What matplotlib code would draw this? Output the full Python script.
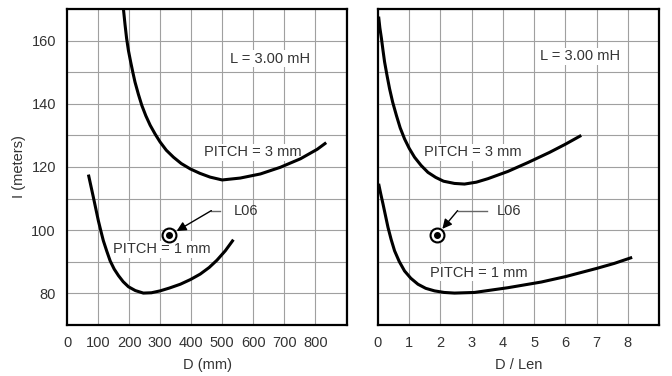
import matplotlib
matplotlib.use('Agg')
import matplotlib.pyplot as plt
import numpy as np

plt.rcParams['font.family'] = ['Liberation Sans', 'DejaVu Sans']

# ================= 数据 =================
# 左图：D (mm)
left_p3_x = [182, 187, 192, 198, 205, 212, 219, 230, 241, 254, 268, 284, 300, 320, 343, 368, 397, 428, 461, 500, 558, 623, 687, 752, 806, 835]
left_p3_y = [169.8, 165.0, 160.7, 156.8, 153.3, 150.0, 146.9, 143.0, 139.5, 136.2, 133.2, 130.4, 127.9, 125.3, 123.1, 121.1, 119.4, 118.0, 116.8, 115.9, 116.5, 117.8, 119.9, 122.6, 125.6, 127.7]
left_p1_x = [69, 77, 85, 93, 101, 109, 117, 128, 139, 152, 166, 181, 198, 220, 246, 272, 300, 330, 365, 398, 429, 458, 483, 510, 536]
left_p1_y = [117.6, 114.0, 110.4, 106.7, 103.0, 99.8, 96.7, 93.4, 90.3, 87.7, 85.6, 83.7, 82.1, 80.9, 80.1, 80.2, 80.8, 81.7, 82.9, 84.4, 86.1, 88.2, 90.5, 93.5, 97.0]
left_pt = (330, 98.4)
left_leader = [(494, 106.2), (465, 106.2)]
left_lbl = {'L06': (536, 106.2), 'L': (524, 154.3), 'P3': (440, 124.7), 'P1': (147, 94.0)}

# 右图：D / Len
right_p3_x = [0.02, 0.06, 0.11, 0.16, 0.21, 0.29, 0.37, 0.47, 0.59, 0.71, 0.85, 1.0, 1.17, 1.38, 1.6, 1.85, 2.1, 2.45, 2.77, 3.15, 3.52, 4.16, 4.8, 5.49, 6.0, 6.51]
right_p3_y = [167.6, 164.0, 160.7, 156.9, 153.3, 148.9, 144.8, 140.5, 136.3, 132.4, 128.9, 125.9, 123.1, 120.5, 118.3, 116.7, 115.5, 114.8, 114.6, 115.2, 116.3, 118.6, 121.4, 124.6, 127.2, 130.0]
right_p1_x = [0.02, 0.09, 0.16, 0.24, 0.32, 0.42, 0.53, 0.68, 0.85, 1.05, 1.28, 1.53, 1.81, 2.12, 2.45, 3.09, 4.16, 5.23, 6.0, 7.0, 7.57, 8.14]
right_p1_y = [114.7, 111.4, 108.3, 104.6, 100.9, 97.1, 93.5, 90.1, 87.1, 84.8, 82.9, 81.6, 80.8, 80.3, 80.1, 80.3, 81.8, 83.6, 85.3, 87.9, 89.5, 91.4]
right_pt = (1.89, 98.4)
right_leader = [(3.5, 106.2), (2.55, 106.2)]
right_lbl = {'L06': (3.79, 106.2), 'L': (5.2, 155), 'P3': (1.46, 124.7), 'P1': (1.68, 86.6)}

ylim = (70, 170)
y_ticks = [80, 100, 120, 140, 160]
left_xticks = [0, 100, 200, 300, 400, 500, 600, 700, 800]
right_xticks = [0, 1, 2, 3, 4, 5, 6, 7, 8]

TXT = '#333333'
GRID = '#a0a0a0'
FS = 10.5


def draw_panel(ax, p3x, p3y, p1x, p1y, pt, leader, lbl, xlim, xticks, xgrid, xlabel):
    ax.set_xlim(*xlim)
    ax.set_ylim(*ylim)
    for gx in xgrid:
        ax.axvline(gx, color=GRID, lw=0.8, zorder=0)
    for gy in np.arange(ylim[0], ylim[1] + 1, 10):
        ax.axhline(gy, color=GRID, lw=0.8, zorder=0)

    # 文字（白底）放在曲线下面
    box = dict(facecolor='white', edgecolor='none', pad=1.0)
    ax.text(*lbl['L06'], 'L06', fontsize=FS, color=TXT, va='center', ha='left', zorder=2)
    ax.text(*lbl['L'], 'L = 3.00 mH', fontsize=FS, color=TXT, va='center', ha='left', bbox=box, zorder=2)
    ax.text(*lbl['P3'], 'PITCH = 3 mm', fontsize=FS, color=TXT, va='center', ha='left', bbox=box, zorder=2)
    ax.text(*lbl['P1'], 'PITCH = 1 mm', fontsize=FS, color=TXT, va='center', ha='left', bbox=box, zorder=2)

    ax.plot(p3x, p3y, color='black', lw=2.2, solid_capstyle='butt', solid_joinstyle='round', zorder=3)
    ax.plot(p1x, p1y, color='black', lw=2.2, solid_capstyle='butt', solid_joinstyle='round', zorder=3)

    # 标记点 L06
    ax.plot(*pt, marker='o', ms=10, mfc='white', mec='black', mew=1.5, zorder=5)
    ax.plot(*pt, marker='o', ms=4, color='black', zorder=6)
    ax.plot([leader[0][0], leader[1][0]], [leader[0][1], leader[1][1]],
            color='#666666', lw=1.0, zorder=4)
    ax.annotate('', xy=pt, xytext=leader[1],
                arrowprops=dict(arrowstyle='-|>', color='black', lw=1.0,
                                mutation_scale=14, shrinkA=0, shrinkB=6),
                zorder=4)

    ax.set_xticks(xticks)
    ax.set_xticklabels([str(t) for t in xticks])
    ax.set_xlabel(xlabel, fontsize=FS, color=TXT, labelpad=6)
    ax.tick_params(length=0, labelsize=FS, labelcolor=TXT, pad=8)
    for sp in ax.spines.values():
        sp.set_linewidth(1.6)
        sp.set_color('black')
        sp.set_zorder(8)


fig = plt.figure(figsize=(6.72, 3.76), dpi=100)
ax1 = fig.add_axes([67 / 672, 51 / 376, 280 / 672, 316 / 376])
ax2 = fig.add_axes([378 / 672, 51 / 376, 281 / 672, 316 / 376])

draw_panel(ax1, left_p3_x, left_p3_y, left_p1_x, left_p1_y, left_pt, left_leader, left_lbl,
           (0, 902), left_xticks, range(100, 901, 100), 'D (mm)')
ax1.set_yticks(y_ticks)
ax1.set_ylabel('I (meters)', fontsize=FS, color=TXT, labelpad=4)

draw_panel(ax2, right_p3_x, right_p3_y, right_p1_x, right_p1_y, right_pt, right_leader, right_lbl,
           (0, 9), right_xticks, range(1, 10), 'D / Len')
ax2.set_yticks(y_ticks)
ax2.set_yticklabels([])

fig.savefig('out.png', dpi=100)
